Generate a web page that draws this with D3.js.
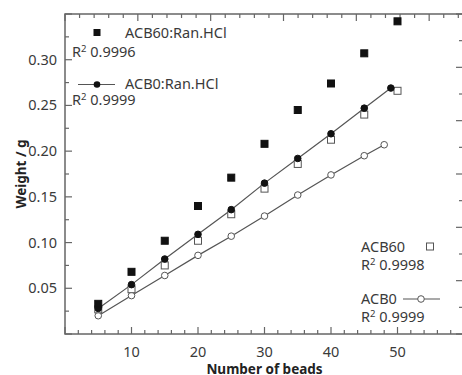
<!DOCTYPE html>
<html>
<head>
<meta charset="utf-8">
<script src="https://cdn.jsdelivr.net/npm/d3@7"></script>
<style>
  body { margin: 0; background: #fff; }
  svg { display: block; font-family: "Noto Sans", sans-serif; }
</style>
</head>
<body>
<svg id="chart" width="462" height="375"></svg>
<script>
// data
var beads = [5, 10, 15, 20, 25, 30, 35, 40, 45, 50];
var acb60Ran = [0.033, 0.068, 0.102, 0.140, 0.171, 0.208, 0.245, 0.274, 0.307, 0.342];
var acb60 = [0.027, 0.049, 0.075, 0.102, 0.131, 0.159, 0.186, 0.2125, 0.240, 0.266];
var acb0RanBeads = [5, 10, 15, 20, 25, 30, 35, 40, 45, 49];
var acb0Ran = [0.028, 0.054, 0.082, 0.109, 0.136, 0.165, 0.192, 0.219, 0.247, 0.269];
var acb0Beads = [5, 10, 15, 20, 25, 30, 35, 40, 45, 48];
var acb0 = [0.020, 0.042, 0.064, 0.086, 0.107, 0.129, 0.152, 0.174, 0.195, 0.207];
var xTicks = [10, 20, 30, 40, 50];
var yTicks = [0.05, 0.10, 0.15, 0.20, 0.25, 0.30];

var svg = d3.select("#chart");
var plotLeft = 65, plotRight = 464, plotTop = 14, plotBottom = 334;
var axisColor = "#666", textColor = "#3a3a3a", lineColor = "#555";
var fontSize = 14.5;

var x = d3.scaleLinear().domain([0, 60]).range([plotLeft, plotRight]);
var y = d3.scaleLinear().domain([0, 0.35]).range([plotBottom, plotTop]);
// top and right ticks in the picture follow their own spacing
var xTop = d3.scaleLinear().domain([0, 60]).range([plotLeft, plotLeft + 437]);
var yRight = d3.scaleLinear().domain([0, 12]).range([plotBottom, plotTop]);

function pts(xs, ys) { return xs.map(function(d, i) { return [d, ys[i]]; }); }

//frame
svg.append("rect").attr("x", plotLeft).attr("y", plotTop)
  .attr("width", plotRight - plotLeft).attr("height", plotBottom - plotTop)
  .attr("fill", "none").attr("stroke", axisColor).attr("stroke-width", 1.5);

//ticks, all pointing inward
var tk = svg.append("g").attr("stroke", axisColor).attr("stroke-width", 1.2);
d3.range(0, 61, 2).forEach(function(v) {
  var len = v % 10 === 0 ? 7 : 4;
  tk.append("line").attr("x1", x(v)).attr("x2", x(v)).attr("y1", plotBottom).attr("y2", plotBottom - len);
  if (xTop(v) < plotRight) {
    tk.append("line").attr("x1", xTop(v)).attr("x2", xTop(v)).attr("y1", plotTop).attr("y2", plotTop + len);
  }
});
d3.range(0, 0.351, 0.025).forEach(function(v, i) {
  var len = i % 2 === 0 ? 7 : 4;
  tk.append("line").attr("x1", plotLeft).attr("x2", plotLeft + len).attr("y1", y(v)).attr("y2", y(v));
});
d3.range(0, 13).forEach(function(v) {
  var len = v % 2 === 0 ? 8 : 5;
  tk.append("line").attr("x1", plotRight).attr("x2", plotRight - len).attr("y1", yRight(v)).attr("y2", yRight(v));
});

//tick labels
svg.append("g").selectAll("text").data(xTicks).enter().append("text")
  .attr("x", function(d) { return x(d); }).attr("y", 357)
  .attr("text-anchor", "middle").attr("font-size", fontSize).attr("fill", textColor)
  .text(function(d) { return d; });
svg.append("g").selectAll("text").data(yTicks).enter().append("text")
  .attr("x", 57).attr("y", function(d) { return y(d) + 5; })
  .attr("text-anchor", "end").attr("font-size", fontSize).attr("fill", textColor)
  .text(function(d) { return d.toFixed(2); });

//axis titles
svg.append("text").attr("x", (plotLeft + plotRight) / 2).attr("y", 374)
  .attr("text-anchor", "middle").attr("font-size", 13.5).attr("font-weight", "bold")
  .attr("fill", "#222").text("Number of beads");
svg.append("text").attr("transform", "translate(26,174) rotate(-90)")
  .attr("text-anchor", "middle").attr("font-size", 13.5).attr("font-weight", "bold")
  .attr("fill", "#222").text("Weight / g");

//lines
var line = d3.line().x(function(d) { return x(d[0]); }).y(function(d) { return y(d[1]); });
[pts(acb0RanBeads, acb0Ran), pts(acb0Beads, acb0)].forEach(function(p) {
  svg.append("path").datum(p).attr("d", line)
    .attr("fill", "none").attr("stroke", lineColor).attr("stroke-width", 1.2);
});

//markers
function squares(data, filled) {
  svg.append("g").selectAll("rect").data(data).enter().append("rect")
    .attr("x", function(d) { return x(d[0]) - 3.5; })
    .attr("y", function(d) { return y(d[1]) - 3.5; })
    .attr("width", 7).attr("height", 7)
    .attr("fill", filled ? "#111" : "#fff")
    .attr("stroke", filled ? "#111" : "#555").attr("stroke-width", 1);
}
function circles(data, filled) {
  svg.append("g").selectAll("circle").data(data).enter().append("circle")
    .attr("cx", function(d) { return x(d[0]); })
    .attr("cy", function(d) { return y(d[1]); })
    .attr("r", 3.3)
    .attr("fill", filled ? "#111" : "#fff")
    .attr("stroke", filled ? "#111" : "#555").attr("stroke-width", 1);
}
circles(pts(acb0Beads, acb0), false);
squares(pts(beads, acb60), false);
circles(pts(acb0RanBeads, acb0Ran), true);
squares(pts(beads, acb60Ran), true);

//legend entries
function label(tx, ty, txt) {
  svg.append("text").attr("x", tx).attr("y", ty).attr("font-size", fontSize)
    .attr("fill", textColor).text(txt);
}
function r2(tx, ty, val) {
  var t = svg.append("text").attr("x", tx).attr("y", ty).attr("font-size", fontSize).attr("fill", textColor);
  t.append("tspan").text("R");
  t.append("tspan").attr("font-size", 9.5).attr("dy", -5.5).text("2");
  t.append("tspan").attr("dy", 5.5).text(" " + val);
}
label(125, 38, "ACB60:Ran.HCl");
svg.append("rect").attr("x", 93.5).attr("y", 29).attr("width", 7).attr("height", 7).attr("fill", "#111");
r2(72, 57, "0.9996");

svg.append("line").attr("x1", 78).attr("x2", 115).attr("y1", 84.5).attr("y2", 84.5)
  .attr("stroke", lineColor).attr("stroke-width", 1.2);
svg.append("circle").attr("cx", 97).attr("cy", 84.5).attr("r", 3.3).attr("fill", "#111");
label(125, 89, "ACB0:Ran.HCl");
r2(72, 105, "0.9999");

label(361, 252, "ACB60");
svg.append("rect").attr("x", 426.5).attr("y", 243).attr("width", 7).attr("height", 7)
  .attr("fill", "#fff").attr("stroke", "#555");
r2(361, 270, "0.9998");

label(361, 304, "ACB0");
svg.append("line").attr("x1", 403).attr("x2", 440).attr("y1", 299).attr("y2", 299)
  .attr("stroke", lineColor).attr("stroke-width", 1.2);
svg.append("circle").attr("cx", 421).attr("cy", 299).attr("r", 3.3)
  .attr("fill", "#fff").attr("stroke", "#555");
r2(361, 322, "0.9999");
</script>
</body>
</html>
